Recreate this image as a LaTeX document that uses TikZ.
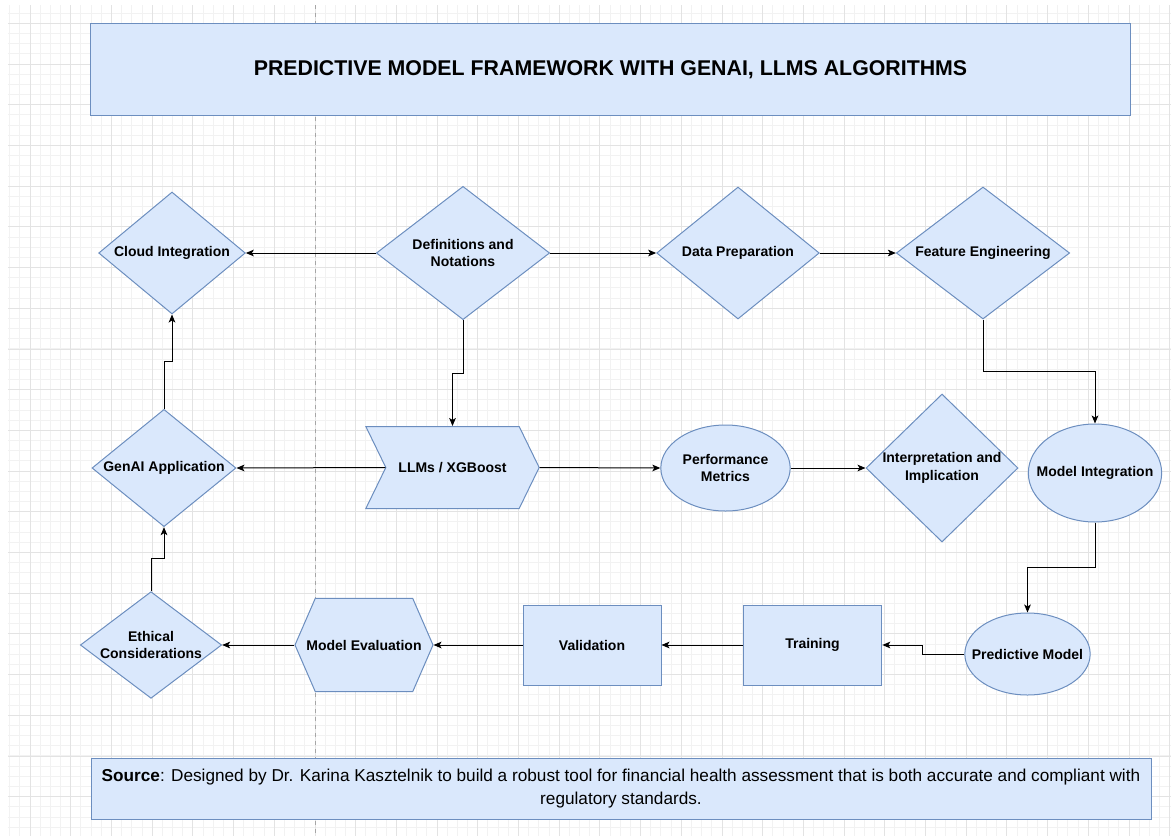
\documentclass[tikz,border=0pt]{standalone}
\usepackage{fontspec}
\setmainfont{Liberation Sans}
\usetikzlibrary{arrows.meta, positioning, shapes.geometric, shapes.symbols}

\definecolor{boxfill}{HTML}{DAE8FC}
\definecolor{boxline}{HTML}{6C8EBF}
\definecolor{gridminor}{HTML}{F2F2F2}
\definecolor{gridmajor}{HTML}{E3E3E3}

\tikzset{
  base/.style={fill=boxfill, draw=boxline, line width=0.75pt, align=center,
    inner sep=0pt, font=\bfseries\fontsize{10.5}{13}\selectfont},
  decision/.style={base, diamond, aspect=1.3},
  roundbox/.style={base, ellipse, inner xsep=-10pt},
  plainbox/.style={base, rectangle},
  arrowbox/.style={base, signal, signal from=west, signal to=east},
  hexbox/.style={base, signal, signal to=east and west, inner xsep=-7pt},
  link/.style={-{Stealth[length=6pt, width=5pt, inset=1.5pt]}, line width=0.75pt},
}

\begin{document}
\begin{tikzpicture}[x=0.75pt, y=-0.75pt]
  \useasboundingbox (0,0) rectangle (1171,836);

  % grid background
  \foreach \i in {0,...,114}
    \draw[gridminor, line width=0.6pt] ({9.65+10.175*\i},5) -- ({9.65+10.175*\i},836);
  \foreach \i in {0,...,81}
    \draw[gridminor, line width=0.6pt] (8,{13.1+10.175*\i}) -- (1171,{13.1+10.175*\i});
  \foreach \i in {0,...,28}
    \draw[gridmajor, line width=0.6pt] ({30+40.7*\i},5) -- ({30+40.7*\i},836);
  \foreach \i in {0,...,20}
    \draw[gridmajor, line width=0.6pt] (8,{23.3+40.7*\i}) -- (1171,{23.3+40.7*\i});
  \draw[black!35, dashed, line width=0.6pt] (315,5) -- (315,836);

  % title and source
  \node[plainbox, minimum width=779.5pt, minimum height=69pt,
        font=\bfseries\fontsize{16}{19}\selectfont] (title) at (610.5,69.3)
    {PREDICTIVE MODEL FRAMEWORK WITH GENAI, LLMS ALGORITHMS};
  \node[plainbox, minimum width=795pt, minimum height=46pt,
        font=\fontsize{12.9}{17.25}\selectfont] (source) at (621,789)
    {\textbf{Source}: Designed by Dr. Karina Kasztelnik to build a robust tool for financial health assessment that is both accurate and compliant with\\regulatory standards.};

  % top row
  \node[decision, minimum width=110pt, minimum height=91.5pt] (cloud) at (172,253) {Cloud Integration};
  \node[decision, minimum width=130pt, minimum height=100pt] (defs) at (463,253) {Definitions and\\Notations};
  \node[decision, minimum width=122pt, minimum height=99pt] (prep) at (738,253) {Data Preparation};
  \node[decision, minimum width=130pt, minimum height=99pt] (feat) at (983,253) {Feature Engineering};

  % middle row
  \node[decision, minimum width=108pt, minimum height=88pt] (genai) at (164,468) {GenAI Application};
  \node[arrowbox, minimum width=130pt, minimum height=61.5pt, signal pointer angle=128] (llm) at (452.5,467.5) {LLMs / XGBoost};
  \node[roundbox, minimum width=97pt, minimum height=64.5pt] (perf) at (725.5,468) {Performance\\Metrics};
  \node[decision, aspect=1.03, minimum width=114pt, minimum height=111pt] (interp) at (942,468) {Interpretation and\\Implication};
  \node[roundbox, minimum width=100pt, minimum height=73.5pt] (mint) at (1095,473) {Model Integration};

  % bottom row
  \node[decision, minimum width=106pt, minimum height=80pt] (ethic) at (151,645) {Ethical\\Considerations};
  \node[hexbox, minimum width=103.5pt, minimum height=70pt, signal pointer angle=133] (eval) at (364,645) {Model Evaluation};
  \node[plainbox, minimum width=103.5pt, minimum height=60pt] (valid) at (592,645) {Validation};
  \node[plainbox, minimum width=104pt, minimum height=60pt] (train) at (812.5,645) {Training};
  \node[roundbox, minimum width=94pt, minimum height=61.5pt] (pred) at (1027.5,654) {Predictive Model};

  % connectors
  \draw[link] (defs.west) -- (cloud.east);
  \draw[link] (defs.east) -- (prep.west);
  \draw[link] (prep.east) -- (feat.west);
  \draw[link] (defs.south) -- ++(0,53) -| (llm.north);
  \draw[link] (feat.south) -- ++(0,52) -| (mint.north);
  \draw[link] (llm.west) -- (genai.east);
  \draw[link] (llm.east) -- (perf.west);
  \draw[link] (perf.east) -- (interp.west);
  \draw[link] (mint.south) -- ++(0,45) -| (pred.north);
  \draw[link] (pred.west) -- ++(-42,0) |- (train.east);
  \draw[link] (train.west) -- (valid.east);
  \draw[link] (valid.west) -- (eval.east);
  \draw[link] (eval.west) -- (ethic.east);
  \draw[link] (ethic.north) -- ++(0,-33) -| (genai.south);
  \draw[link] (genai.north) -- ++(0,-47) -| (cloud.south);
\end{tikzpicture}
\end{document}
